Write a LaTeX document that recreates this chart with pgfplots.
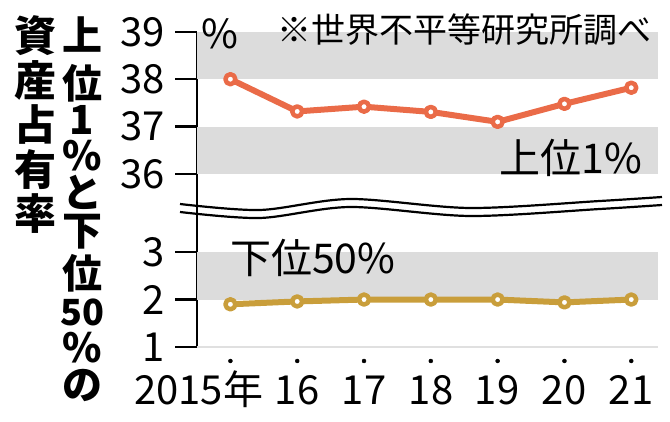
\documentclass[border=0pt]{standalone}
\usepackage{fontspec}
\setmainfont{Noto Sans CJK JP}
\usepackage{pgfplots}
\pgfplotsset{compat=1.18}
\definecolor{topc}{HTML}{EA6B48}
\definecolor{botc}{HTML}{C99E3B}
\definecolor{band}{HTML}{DCDCDC}

\pgfplotsset{
  panel/.style={
    scale only axis, width=461pt,
    xmin=2014.5, xmax=2021.4,
    axis x line=none, axis y line=left,
    y axis line style={-, line width=2.4pt, black},
    tick align=outside, major tick length=22pt,
    y tick style={line width=2.4pt, black},
    /pgf/number format/assume math mode=true,
    yticklabel style={font=\fontsize{40}{40}\selectfont, anchor=east, inner sep=0pt, xshift=-10pt},
    clip=false,
  },
  series/.style={line width=6pt, line join=round, color=#1,
    mark=*, mark size=5pt, mark options={fill=white, draw=#1, line width=4.5pt}},
}

\begin{document}
\begin{tikzpicture}[x=1pt,y=1pt]
\useasboundingbox (0,0) rectangle (670,422);

% upper panel: top 1%
\begin{axis}[panel, at={(197pt,216pt)}, anchor=south west,
  height=174.2pt, ymin=35.325, ymax=39,
  ytick={36,37,38,39}, yticklabels={36,37,38,39}]
  \addplot[fill=band, draw=none] coordinates {(2014.5,38) (2021.4,38) (2021.4,39) (2014.5,39)} -- cycle;
  \addplot[fill=band, draw=none] coordinates {(2014.5,36) (2021.4,36) (2021.4,37) (2014.5,37)} -- cycle;
  \addplot[series=topc] coordinates {
    (2015,38.0) (2016,37.32) (2017,37.42) (2018,37.31) (2019,37.1) (2020,37.48) (2021,37.82)};
\end{axis}

% lower panel: bottom 50%
\begin{axis}[panel, at={(197pt,75pt)}, anchor=south west,
  height=141pt, ymin=1, ymax=3.972,
  ytick={1,2,3}, yticklabels={1,2,3}]
  \addplot[fill=band, draw=none] coordinates {(2014.5,2) (2021.4,2) (2021.4,3) (2014.5,3)} -- cycle;
  \addplot[draw=black!12, line width=2.5pt] coordinates {(2014.5,1) (2021.4,1)};
  \addplot[series=botc] coordinates {
    (2015,1.9) (2016,1.96) (2017,2.0) (2018,2.0) (2019,2.0) (2020,1.94) (2021,2.0)};
  \addplot[only marks, mark=*, mark size=2pt, black] coordinates {
    (2015,0.705) (2016,0.705) (2017,0.705) (2018,0.705) (2019,0.705) (2020,0.705) (2021,0.705)};
\end{axis}

% x labels
\foreach \x/\lab in {230/{\hspace*{26pt}\llap{2015}年}, 297/16, 364/17, 431/18, 497/19, 564/20, 631/21}
  \node[anchor=base, inner sep=0pt, font=\fontsize{40}{40}\selectfont] at (\x,17) {\lab};

% axis break
\draw[line width=2.2pt] plot[smooth] coordinates {(180,218) (260,212) (350,223) (470,214) (600,221) (662,225)};
\draw[line width=2.2pt] plot[smooth] coordinates {(180,210) (260,204) (350,215) (470,206) (600,213) (662,217)};

% texts
\node[inner sep=0pt, font=\fontsize{40}{40}\selectfont] at (220,388) {\%};
\node[anchor=east, inner sep=0pt, font=\fontsize{34}{34}\selectfont] at (652,392) {※世界不平等研究所調べ};
\node[anchor=east, inner sep=0pt, font=\fontsize{41}{41}\selectfont] at (642,264) {上位1\%};
\node[anchor=west, inner sep=0pt, font=\fontsize{41}{41}\selectfont] at (230,164) {下位50\%};

% vertical title
\foreach \y/\c in {386/資, 342/産, 297/占, 252/有, 208/率}
  \node[inner sep=0pt, font=\bfseries\fontsize{42}{42}\selectfont] at (35,\y) {\c};
\foreach \y/\c in {387/上, 339/位, 302/1, 266/\%, 230/と, 190/下, 149/位, 74/\%, 36/の}
  \node[inner sep=0pt, font=\bfseries\fontsize{40}{40}\selectfont] at (82,\y) {\c};
\node[inner sep=0pt, font=\bfseries\fontsize{36}{36}\selectfont] at (82,110) {50};
\end{tikzpicture}
\end{document}
